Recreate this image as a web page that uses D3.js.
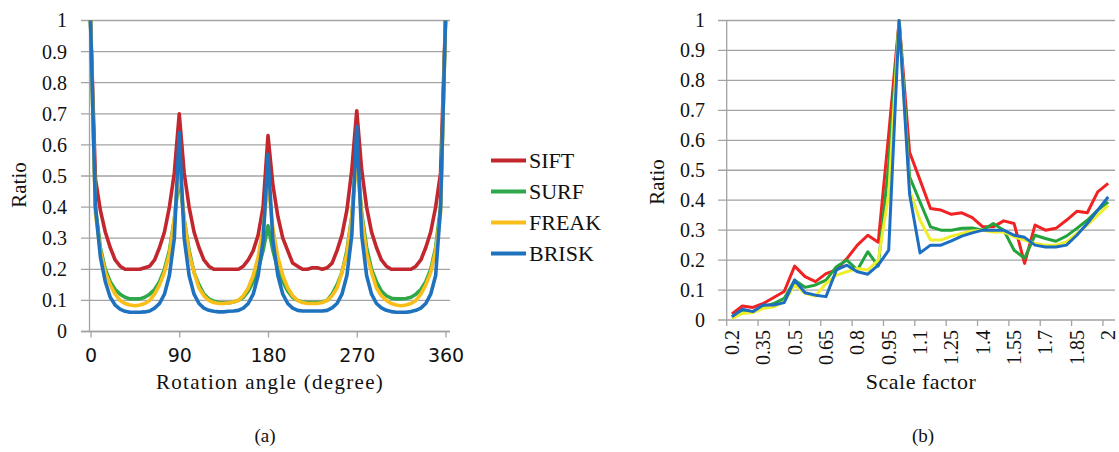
<!DOCTYPE html>
<html>
<head>
<meta charset="utf-8">
<script src="https://cdn.jsdelivr.net/npm/d3@7"></script>
<style>
body { margin: 0; background: #fff; }
svg { display: block; }
.serif { font-family: "Liberation Serif", "DejaVu Serif", serif; fill: #111; }
.sans { font-family: "DejaVu Sans", Verdana, sans-serif; fill: #111; }
</style>
</head>
<body>
<div id="chart"></div>
<script>
// (a) ratio vs rotation angle, one sample every 5 degrees
const angles = d3.range(0, 361, 5);
const angleTicks = [0, 90, 180, 270, 360];

const rotSIFT = [1.00,
  0.49,0.39,0.32,0.27,0.23,0.21,0.20,0.20,0.20,0.20,0.205,0.21,0.23,0.27,0.32,0.40,0.51,
  0.70,
  0.51,0.40,0.32,0.27,0.23,0.21,0.20,0.20,0.20,0.20,0.20,0.20,0.21,0.23,0.26,0.31,0.40,
  0.63,
  0.47,0.37,0.30,0.26,0.22,0.21,0.20,0.20,0.205,0.205,0.20,0.205,0.22,0.26,0.31,0.39,0.52,
  0.71,
  0.52,0.40,0.32,0.27,0.23,0.21,0.20,0.20,0.20,0.20,0.20,0.21,0.23,0.27,0.32,0.40,0.51,
  1.00];
const rotSURF = [1.00,
  0.40,0.27,0.20,0.16,0.135,0.12,0.11,0.105,0.105,0.105,0.11,0.12,0.135,0.16,0.20,0.26,0.36,
  0.50,
  0.36,0.26,0.19,0.15,0.12,0.105,0.097,0.093,0.092,0.092,0.095,0.10,0.11,0.13,0.16,0.20,0.26,
  0.34,
  0.26,0.20,0.16,0.13,0.11,0.10,0.095,0.093,0.093,0.093,0.095,0.10,0.12,0.15,0.19,0.26,0.37,
  0.58,
  0.38,0.27,0.20,0.16,0.13,0.115,0.107,0.105,0.105,0.106,0.11,0.12,0.135,0.16,0.20,0.27,0.40,
  1.00];
const rotFREAK = [1.00,
  0.38,0.26,0.19,0.15,0.12,0.10,0.09,0.085,0.083,0.085,0.09,0.10,0.12,0.15,0.19,0.25,0.36,
  0.53,
  0.36,0.25,0.19,0.14,0.115,0.10,0.093,0.09,0.09,0.092,0.095,0.10,0.115,0.14,0.18,0.24,0.33,
  0.48,
  0.33,0.24,0.18,0.14,0.115,0.10,0.093,0.09,0.09,0.09,0.093,0.10,0.115,0.14,0.19,0.25,0.37,
  0.56,
  0.37,0.25,0.19,0.14,0.115,0.10,0.09,0.085,0.083,0.085,0.09,0.10,0.12,0.15,0.19,0.26,0.38,
  1.00];
const rotBRISK = [1.00,
  0.40,0.24,0.16,0.11,0.085,0.072,0.065,0.062,0.062,0.062,0.063,0.066,0.075,0.09,0.12,0.18,0.30,
  0.64,
  0.30,0.18,0.12,0.09,0.075,0.068,0.065,0.063,0.063,0.065,0.066,0.068,0.075,0.09,0.12,0.18,0.29,
  0.57,
  0.29,0.18,0.12,0.09,0.075,0.068,0.066,0.066,0.066,0.066,0.066,0.068,0.076,0.09,0.12,0.18,0.31,
  0.66,
  0.31,0.18,0.12,0.09,0.076,0.068,0.064,0.062,0.062,0.062,0.064,0.068,0.075,0.09,0.12,0.18,0.40,
  1.00];

// (b) ratio vs scale factor
const scaleCats = ["0.2","0.25","0.3","0.35","0.4","0.45","0.5","0.55","0.6","0.65","0.7","0.75",
  "0.8","0.85","0.9","0.95","1","1.05","1.1","1.15","1.2","1.25","1.3","1.35","1.4","1.45",
  "1.5","1.55","1.6","1.65","1.7","1.75","1.8","1.85","1.9","1.95","2"];
const scaleTicks = ["0.2","0.35","0.5","0.65","0.8","0.95","1.1","1.25","1.4","1.55","1.7","1.85","2"];

const scaleSIFT = [0.02,0.047,0.042,0.055,0.075,0.095,0.18,0.145,0.128,0.155,0.167,0.205,0.25,0.283,
  0.26,0.62,1.0,0.56,0.467,0.372,0.367,0.353,0.358,0.342,0.311,0.311,0.331,0.322,0.189,0.317,
  0.3,0.306,0.333,0.363,0.358,0.428,0.456];
const scaleSURF = [0.011,0.033,0.028,0.044,0.055,0.072,0.133,0.109,0.117,0.133,0.178,0.2,0.167,0.228,
  0.18,0.52,1.0,0.478,0.394,0.311,0.3,0.3,0.306,0.307,0.3,0.322,0.3,0.233,0.206,0.283,
  0.272,0.263,0.28,0.306,0.333,0.367,0.394];
const scaleFREAK = [0.005,0.022,0.025,0.039,0.044,0.061,0.117,0.089,0.08,0.122,0.15,0.161,0.172,0.167,
  0.2,0.42,1.0,0.433,0.333,0.267,0.267,0.28,0.289,0.297,0.3,0.294,0.294,0.278,0.267,0.256,
  0.25,0.25,0.261,0.289,0.317,0.35,0.383];
const scaleBRISK = [0.011,0.036,0.028,0.05,0.05,0.058,0.133,0.091,0.083,0.078,0.167,0.183,0.161,0.153,
  0.183,0.233,1.0,0.42,0.224,0.25,0.25,0.264,0.28,0.291,0.3,0.3,0.3,0.283,0.276,0.25,
  0.244,0.244,0.25,0.283,0.322,0.367,0.411];

const names = ["SIFT", "SURF", "FREAK", "BRISK"];
const colorsA = ["#c1272d", "#2ea84a", "#f9be19", "#1f72be"];
const colorsB = ["#f02222", "#22a33c", "#eeee2c", "#1b6ec2"];

const gridColor = "#a3a3a3";
const fmt = d3.format("~g");

const svg = d3.select("#chart").append("svg")
    .attr("width", 1119)
    .attr("height", 452);

// ---------- chart (a) ----------
const xA = d3.scaleLinear().domain([0, 360]).range([90.5, 445.5]);
const yA = d3.scaleLinear().domain([0, 1]).range([331.5, 20.5]);
const gA = svg.append("g");

gA.append("g").selectAll("line")
    .data(yA.ticks(10))
    .join("line")
    .attr("x1", 81).attr("x2", 450)
    .attr("y1", d => yA(d)).attr("y2", d => yA(d))
    .attr("stroke", gridColor).attr("stroke-width", 1.3);

gA.append("line")
    .attr("x1", 89.5).attr("x2", 89.5).attr("y1", yA(1)).attr("y2", yA(0))
    .attr("stroke", gridColor).attr("stroke-width", 1.3);

const yAxisA = gA.append("g")
    .attr("transform", "translate(81,0)")
    .call(d3.axisLeft(yA).ticks(10).tickFormat(fmt).tickSize(0).tickPadding(14));
yAxisA.select(".domain").remove();
yAxisA.selectAll("text").attr("class", "serif").style("font-size", "20px");

const xAxisA = gA.append("g")
    .attr("transform", "translate(0,331.5)")
    .call(d3.axisBottom(xA).tickValues(angleTicks).tickSize(6).tickPadding(11));
xAxisA.select(".domain").attr("d", "M81,0H450").attr("stroke", gridColor).attr("stroke-width", 1.3);
xAxisA.selectAll(".tick line").attr("stroke", gridColor).attr("stroke-width", 1.3);
xAxisA.selectAll("text").attr("class", "sans").style("font-size", "19px");

const lineA = d3.line().x((d, i) => xA(angles[i])).y(d => yA(d));
[rotSIFT, rotSURF, rotFREAK, rotBRISK].forEach((s, k) =>
    gA.append("path")
        .attr("d", lineA(s))
        .attr("fill", "none")
        .attr("stroke", colorsA[k])
        .attr("stroke-width", 3.6)
        .attr("stroke-linejoin", "round"));

gA.append("text")
    .attr("class", "serif")
    .attr("transform", "translate(26,185) rotate(-90)")
    .attr("text-anchor", "middle")
    .style("font-size", "21px")
    .text("Ratio");

gA.append("text")
    .attr("class", "serif")
    .attr("x", 270).attr("y", 389)
    .attr("text-anchor", "middle")
    .style("font-size", "21px").style("letter-spacing", "1.3px")
    .text("Rotation angle (degree)");

gA.append("text")
    .attr("class", "serif")
    .attr("x", 265).attr("y", 442)
    .attr("text-anchor", "middle")
    .style("font-size", "19px")
    .text("(a)");

// legend
const legend = gA.append("g").selectAll("g")
    .data(names)
    .join("g")
    .attr("transform", (d, i) => `translate(491,${160.5 + i * 31})`);
legend.append("line")
    .attr("x1", 0).attr("x2", 35)
    .attr("stroke", (d, i) => colorsA[i]).attr("stroke-width", 4);
legend.append("text")
    .attr("class", "serif")
    .attr("x", 38).attr("dy", "0.35em")
    .style("font-size", "22px")
    .text(d => d);

// ---------- chart (b) ----------
const xB = d3.scaleBand().domain(scaleCats).range([726.7, 1113.4]);
const xBc = d => xB(d) + xB.bandwidth() / 2;
const yB = d3.scaleLinear().domain([0, 1]).range([320, 20.5]);
const gB = svg.append("g");

gB.append("g").selectAll("line")
    .data(yB.ticks(10))
    .join("line")
    .attr("x1", 718).attr("x2", 1115)
    .attr("y1", d => yB(d)).attr("y2", d => yB(d))
    .attr("stroke", gridColor).attr("stroke-width", 1.3);

gB.append("line")
    .attr("x1", 726.7).attr("x2", 726.7).attr("y1", yB(1)).attr("y2", yB(0))
    .attr("stroke", gridColor).attr("stroke-width", 1.3);

const yAxisB = gB.append("g")
    .attr("transform", "translate(718,0)")
    .call(d3.axisLeft(yB).ticks(10).tickFormat(fmt).tickSize(0).tickPadding(13));
yAxisB.select(".domain").remove();
yAxisB.selectAll("text").attr("class", "serif").style("font-size", "20px");

const xAxisB = gB.append("g")
    .attr("transform", "translate(0,320)")
    .call(d3.axisBottom(xB).tickValues(scaleTicks).tickSize(0));
xAxisB.select(".domain").remove();
xAxisB.selectAll("text")
    .attr("class", "serif")
    .attr("transform", "rotate(-90)")
    .attr("text-anchor", "end")
    .attr("x", -10).attr("y", 0).attr("dy", "0.35em")
    .style("font-size", "20px");

// tick marks sit on the band edges, every third category
gB.append("g").selectAll("line")
    .data(scaleTicks)
    .join("line")
    .attr("x1", d => xB(d)).attr("x2", d => xB(d))
    .attr("y1", 320).attr("y2", 326)
    .attr("stroke", gridColor).attr("stroke-width", 1.3);

const lineB = d3.line().x((d, i) => xBc(scaleCats[i])).y(d => yB(d));
[scaleSIFT, scaleSURF, scaleFREAK, scaleBRISK].forEach((s, k) =>
    gB.append("path")
        .attr("d", lineB(s))
        .attr("fill", "none")
        .attr("stroke", colorsB[k])
        .attr("stroke-width", 3)
        .attr("stroke-linejoin", "round"));

gB.append("text")
    .attr("class", "serif")
    .attr("transform", "translate(664,182) rotate(-90)")
    .attr("text-anchor", "middle")
    .style("font-size", "21px")
    .text("Ratio");

gB.append("text")
    .attr("class", "serif")
    .attr("x", 921).attr("y", 389)
    .attr("text-anchor", "middle")
    .style("font-size", "22px").style("letter-spacing", "0.5px")
    .text("Scale factor");

gB.append("text")
    .attr("class", "serif")
    .attr("x", 923).attr("y", 442)
    .attr("text-anchor", "middle")
    .style("font-size", "19px")
    .text("(b)");
</script>
</body>
</html>
